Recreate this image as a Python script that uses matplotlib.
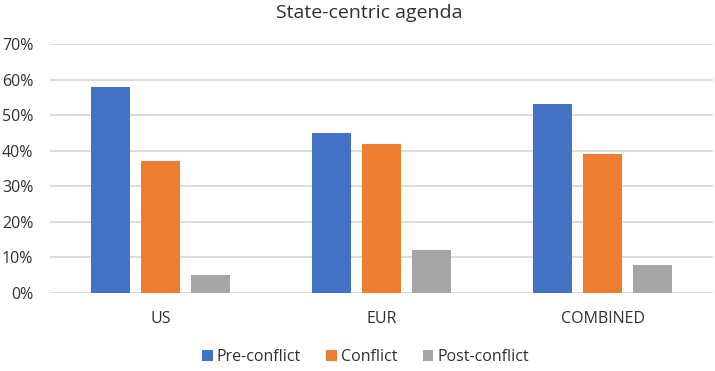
import matplotlib
matplotlib.use("Agg")
import matplotlib.pyplot as plt
from matplotlib.ticker import PercentFormatter
import numpy as np

CATS = ["US", "EUR", "COMBINED"]
SERIES = ["Pre-conflict", "Conflict", "Post-conflict"]
PRE = [58, 45, 53]
CONFLICT = [37, 42, 39]
POST = [5, 12, 8]
COLORS = ["#4472C4", "#ED7D31", "#A5A5A5"]

plt.rcParams["font.family"] = ["Open Sans", "DejaVu Sans"]
TXT = "#303030"

fig = plt.figure(figsize=(7.15, 3.71), dpi=100)
ax = fig.add_axes([50 / 715, 1 - 293 / 371, 663 / 715, 249 / 371])

x = np.arange(len(CATS))
bw = 0.176
step = bw + 0.05
for k, (vals, lab, col) in enumerate(zip([PRE, CONFLICT, POST], SERIES, COLORS)):
    ax.bar(x + (k - 1) * step, vals, bw, color=col, label=lab, zorder=3)

ax.set_xlim(-0.5, 2.5)
ax.set_ylim(0, 70)
ax.set_yticks(range(0, 71, 10))
ax.yaxis.set_major_formatter(PercentFormatter(decimals=0))
ax.grid(axis="y", color="#D9D9D9", linewidth=1.3, zorder=0)
for sp in ax.spines.values():
    sp.set_visible(False)
ax.tick_params(length=0, labelsize=11.5, colors=TXT)
ax.tick_params(axis="y", pad=12)
ax.tick_params(axis="x", pad=13)
ax.set_xticks(x)
ax.set_xticklabels(CATS)

fig.text(0.5 + 12 / 715, 1 - 13 / 371, "State-centric agenda", ha="center", va="center",
         fontsize=14, color=TXT)
fig.legend(loc="center", bbox_to_anchor=(0.5 + 8 / 715, 1 - 357 / 371), ncol=3, frameon=False,
           fontsize=11.5, handlelength=0.65, handleheight=0.65, handletextpad=0.25, columnspacing=1.6,
           labelcolor=TXT)

fig.savefig("out.png", dpi=100)
